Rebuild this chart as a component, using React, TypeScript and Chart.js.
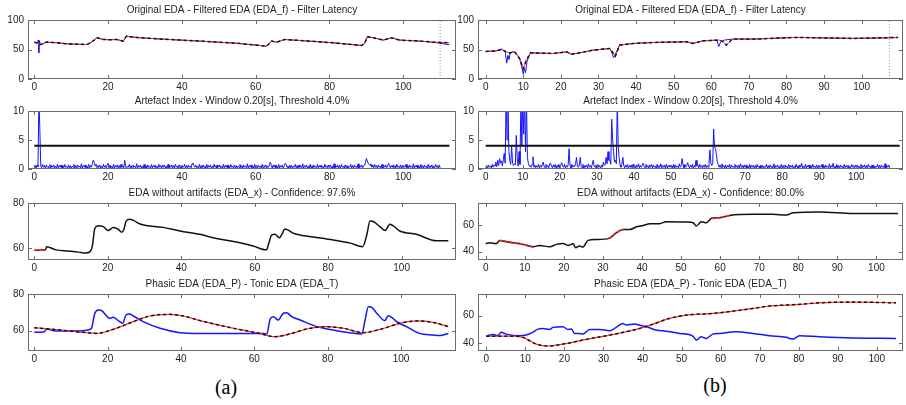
import React, { useEffect, useRef } from 'react';
import { Chart, registerables } from 'chart.js';

Chart.register(...registerables);

// ---------------- axis ticks ----------------
const A_X_TICKS = [0, 20, 40, 60, 80, 100];
const B_X_TICKS = [0, 10, 20, 30, 40, 50, 60, 70, 80, 90, 100];
const EDA_Y_TICKS = [0, 50, 100];
const AI_Y_TICKS = [0, 5, 10];
const A_EDAX_Y_TICKS = [60, 80];
const A_COMP_Y_TICKS = [60, 80];
const B_EDAX_Y_TICKS = [40, 60];
const B_COMP_Y_TICKS = [40, 60];

const THRESHOLD = 4;
const AI_DT = 0.25;
const LATENCY_A = 110;
const LATENCY_B = 107.4;
const CONF_A = '97.6%';
const CONF_B = '80.0%';

// ---------------- recording (a) ----------------
// original / filtered EDA
const T_EDA_A = [0, 0.8, 1.1, 1.2, 1.4, 1.6, 2, 3.3, 6, 8.8, 12, 14.2, 15.3, 16.2, 16.9, 18.7, 20.5, 22.3, 24.1, 25, 26, 28.6, 35, 45, 55, 63, 64.3, 65.7, 67.9, 70, 72, 81, 88.7, 89.5, 90.3, 91.9, 94.6, 96.8, 99, 104, 108, 112.5];
const EDA_RAW_A = [62.5, 61, 66, 44, 65, 58.5, 59, 62.5, 61.5, 59.7, 58.8, 58.5, 61.4, 66, 69.9, 67, 66.5, 67, 64.2, 72.7, 71.5, 69.9, 67.5, 64.2, 60.5, 55.7, 64.2, 62.5, 67, 66, 65.3, 61.4, 56.8, 60, 71.6, 69.9, 65.9, 69.9, 65.9, 64.5, 62.5, 58];
const EDA_F_A = [62.5, 61, 60, 59, 58.5, 58.5, 59, 62.5, 61.5, 59.7, 58.8, 58.5, 61.4, 66, 69.9, 67, 66.5, 67, 64.2, 72.7, 71.5, 69.9, 67.5, 64.2, 60.5, 55.7, 64.2, 62.5, 67, 66, 65.3, 61.4, 56.8, 60, 71.6, 69.9, 65.9, 69.9, 65.9, 64.5, 62.5, 61.4];

// artefact index, one value every AI_DT seconds (20 values = 5 s per row)
const AI_A = [
  .2, .6, .1, .7, .4, 12, 7, .5, .2, .8, .3, .6, .1, .7, .3, .5, .1, .8, .2, .6,
  .3, .7, .2, .5, .1, .8, .2, .6, .3, .7, .1, .6, .2, .8, .3, .5, .1, .7, .2, .6,
  .1, .5, .3, .8, .2, .6, .1, .7, .3, .5, .2, .9, .1, .6, .3, .7, .2, .5, .1, .8,
  .2, .6, .3, 1.0, 1.5, 1.1, .5, .8, .2, .6, .3, .7, .1, .5, .2, .8, .3, .6, .1, .7,
  1.0, .3, .7, .2, .5, .1, .8, .2, .6, .3, .7, .1, .6, .2, .8, .3, .5, .1, 1.5, .4,
  .1, .5, .3, .8, .2, .6, .1, .7, .3, .5, .2, .9, .1, .6, .3, .7, .2, .5, .1, .8,
  .2, .6, .1, .7, .3, .5, .1, .8, .2, .6, .3, .7, .1, .5, .2, .8, .3, .6, .1, .7,
  .3, .7, .2, .5, .1, .8, .2, .6, .3, .7, .1, .6, .2, .8, .3, .5, .1, .7, .2, .6,
  .1, .5, .3, .8, .2, .6, .1, .7, .3, .5, .2, .9, 1.0, .6, .3, .7, .2, .5, .1, .8,
  .2, .6, .1, .7, .3, .5, .1, .8, .2, .6, .3, .7, .1, .5, .2, .8, .3, .6, .1, .7,
  .3, .7, .2, .5, .1, .8, .2, .6, .3, .7, .1, .6, .2, .8, .3, .5, .1, .7, .2, .6,
  .1, .5, .3, .8, .2, .6, .1, .7, .3, .5, .2, .9, .1, .6, .3, .7, .2, .5, .1, .8,
  .2, .6, .1, .7, .3, .5, .1, .8, .2, .6, .3, .7, .1, .5, .3, .9, 1.2, .6, .1, .7,
  .3, .7, .2, .5, .1, .8, .2, .6, .3, .7, .1, .6, 1.0, .8, .3, .5, .1, .7, .2, .6,
  .1, .5, .3, .8, .2, .6, .1, .7, .3, .5, .2, .9, .1, .6, .3, .7, .2, .5, .1, .8,
  .2, .6, .1, .7, .3, .5, .1, .8, .2, .6, .3, .7, .1, .5, .2, .8, .3, .6, .1, .7,
  .3, .7, .2, .5, .1, .9, .2, .6, .3, .7, .1, .6, .2, .8, .3, .5, .1, .7, .2, .6,
  .1, .5, .3, .8, .2, .6, .1, .7, .3, .5, .2, .9, .1, .6, .3, .7, .2, .5, .6, 1.1,
  1.8, 1.4, 1.0, .8, .6, .9, .3, .7, .2, .8, .3, .6, .1, .7, .3, .5, .1, .8, .2, .6,
  .3, .7, .2, .5, 1.0, .6, .2, .6, .3, .7, .1, .6, .2, .8, .3, .5, .1, .7, .2, .6,
  .1, .5, .3, .8, .2, .6, .1, .7, .3, .5, .2, .9, .1, .6, .3, .7, .2, .5, .1, .8,
  .2, .6, .1, .7, .3, .5, .1, .8, .2, .6, .3, .7, .1, .5, .2, .8, .3, .6, .1, .7,
  .2,
];
const AI_END_A = 112.5;

// EDA without artifacts
const T_EDAX_A = [0, 1, 2, 3, 3.4, 4, 6, 9, 12, 14, 15.2, 15.8, 16.5, 17.4, 18.8, 20.1, 21.5, 22.9, 23.8, 24.4, 25, 26, 27, 28.8, 35, 39.7, 45, 49.6, 55, 59.6, 63.2, 63.8, 64.6, 65.5, 66.7, 67.5, 68.2, 69.1, 70.5, 72.3, 77, 81.4, 86, 89.4, 90.5, 91.4, 92.3, 94.1, 95.5, 96.8, 97.7, 99.5, 104, 109.5, 112.7];
const EDAX_A = [59.3, 59.1, 59.3, 59.2, 60.7, 60.5, 59.3, 58.8, 58.3, 57.9, 58.5, 61, 68.9, 70, 69.6, 67.9, 69.2, 68.4, 67.1, 68.5, 72.1, 72.9, 72.4, 70.8, 69.3, 67.7, 66.2, 64.4, 62.8, 61, 59.3, 62, 65.9, 66.2, 64.7, 66.5, 68.6, 68.1, 66.7, 65.9, 64.8, 63.7, 62.3, 60.7, 65.9, 72.1, 71.9, 69.6, 67.9, 70.7, 70, 67.7, 66.2, 63.3, 63.3];
const ART_RANGES_A = [[0, 3]];

// phasic / tonic
const T_PHASIC_A = [0, 2.5, 3.4, 5.2, 8, 12, 14.7, 15.6, 16.5, 17.5, 18.4, 19.7, 20.6, 21.5, 22.9, 24.1, 25, 25.9, 27, 29.7, 34.3, 39.7, 45, 55, 62.5, 63.4, 64.3, 65.2, 66.5, 67.9, 68.8, 70.2, 72.5, 77, 81.5, 86, 89.3, 90.2, 91.1, 92, 93.4, 95.6, 96.5, 97.5, 98.8, 101.5, 105, 108.8, 110.6, 112.9];
const PHASIC_A = [59.1, 59.2, 60.9, 60, 59.8, 59.8, 60.4, 61.3, 69.5, 71.3, 70.9, 68, 66.7, 67.3, 65.5, 64, 68.5, 69.1, 68, 64.9, 61.3, 58.9, 58.5, 58.5, 58.4, 58.2, 66.2, 67.6, 65.8, 69.5, 69.8, 67.6, 65.8, 62.2, 60.4, 58.9, 58.2, 65.8, 73.1, 72.7, 69.5, 65.5, 68.2, 67.3, 64.9, 62.2, 58.5, 57.6, 57.3, 58.5];
const T_TONIC_A = [0, 4.3, 8.8, 14.3, 17, 21.5, 27, 31.5, 37, 40.6, 45.2, 54.3, 60.6, 65.6, 69.7, 74.3, 79.7, 84.3, 89.7, 94.3, 99.7, 104.3, 108.8, 112.9];
const TONIC_A = [61.6, 60.9, 60, 58.9, 58.5, 60.7, 64.9, 68, 68.9, 68, 65.5, 61.3, 58.9, 56.7, 58.2, 60.9, 62.2, 61.3, 58.9, 60.7, 64, 65.3, 64.5, 62.2];

// ---------------- recording (b) ----------------
const T_EDA_RAW_B = [0, 2.8, 4.2, 5.2, 5.6, 5.9, 6.2, 6.5, 7, 7.7, 9, 9.6, 10, 10.3, 10.6, 11, 11.9, 17.9, 21.5, 22.8, 25, 28.5, 33, 33.6, 34, 34.5, 35.6, 39.2, 44.5, 53.4, 55.1, 57.8, 61.5, 62, 62.5, 63.5, 65.6, 71.1, 82.6, 97.7, 106, 109];
const EDA_RAW_B = [46.6, 47.7, 51, 46, 27, 40, 33, 44, 46, 46, 36, 20, 8, 18, 11, 30, 44.3, 43.2, 46, 42, 44.3, 48.9, 51.7, 44, 36, 42, 57.4, 60.2, 61.9, 63.1, 60.2, 64.8, 65.9, 55, 63, 66, 67.6, 67.6, 70.5, 68.8, 69.5, 70];
const T_EDA_F_B = [0, 2.8, 4.2, 5.5, 6.4, 7.7, 9, 10, 10.8, 11.9, 17.9, 21.5, 22.8, 25, 28.5, 33, 33.8, 34.5, 35.6, 39.2, 44.5, 53.4, 55.1, 57.8, 62.2, 63.2, 64, 65.6, 71.1, 82.6, 97.7, 109.7];
const EDA_F_B = [46.6, 47.7, 50, 46, 44.3, 46, 34.7, 17.6, 31.8, 44.3, 43.2, 46, 42, 44.3, 48.9, 51.7, 45, 38.6, 57.4, 60.2, 61.9, 63.1, 60.2, 64.8, 65.9, 63, 57.4, 67.6, 67.6, 70.5, 68.8, 70.5];

const AI_B = [
  .2, .6, .1, .7, .3, .5, .2, .8, .3, .7, .5, 1.2, .4, 1.5, .6, 1.8, 1.0, 1.4, .5, 1.6,
  2.7, 1.0, 12, 5, 12, 3, 1.5, .8, 4, 1, .6, .9, .7, 5.8, 2, .5, 3, .8, 12, 4,
  12, 6, 12, 3, 12, 2, 1, .5, .6, .3, .8, 2.1, .3, .7, .2, .6, .3, .8, .1, .7,
  .3, .7, 1.2, .5, .2, .8, .3, .6, .2, .9, 1.0, .5, .2, .7, .3, .8, .1, .6, .3, .8,
  .2, .7, 1.1, .5, .3, .8, .2, .6, .3, .7, 3.5, .6, .2, .8, .3, .6, .4, .9, 2.0, .5,
  .3, .7, 2.0, .5, .2, .8, .1, .6, .3, .7, .2, .9, .3, .6, .2, .8, 1.5, .6, .3, .7,
  .2, .8, .3, .6, .1, .7, .3, 1.2, .6, .8, 2, .9, 3, 1.5, 1.5, .8, 8.6, 5, 3, 1.2,
  1.5, .9, 12, 4, 2, .7, .3, .8, 2, .6, .2, .7, .3, .8, .1, .6, .3, .7, .2, .8,
  .3, .6, .1, .7, .3, .9, .2, .6, .3, .7, 1.0, .5, .2, .8, .3, .6, .1, .7, .3, .8,
  .2, .7, .3, .5, .1, .8, .2, .6, .3, .9, .2, .6, .3, .7, .1, .8, .2, .6, .3, .7,
  .3, .6, .2, .8, .1, .7, .3, .5, .2, .9, .3, .6, 1.8, .7, .2, .8, .3, .6, 1.1, .5,
  .2, .7, .3, .8, .1, .6, .3, 1.5, .5, .7, .2, .8, .3, .6, .1, .7, .3, .8, .2, .6,
  .3, .8, 3.3, 1.0, .6, .9, 6.9, 3.8, 3.5, 2.5, 1.2, .8, .3, .7, .2, .9, .3, .6, .1, .7,
  .2, .6, .3, .8, .1, .7, .3, .5, .2, .8, .3, .6, .1, .7, .2, .9, .3, .6, .1, .7,
  .3, .7, .2, .5, .1, .8, .2, .6, .3, .7, .1, .6, .2, .8, .3, .5, .1, .7, .2, .6,
  .1, .5, .3, .8, .2, .6, .1, .7, .3, .5, .2, .9, .1, .6, .3, .7, .2, .5, .1, .8,
  .2, .6, .1, .7, .3, .5, .1, .8, .2, .6, .3, .7, .1, .5, .2, .8, .3, .6, .1, .7,
  .3, 1.0, .2, .5, .1, .8, .2, .6, .3, .7, .1, .6, .2, .8, .3, .5, .1, .7, .2, .6,
  .1, .5, .3, .8, .2, .6, .1, .7, .3, .5, .2, .9, .1, .6, .3, 1.0, .2, .5, .1, .8,
  .2, .6, .1, .7, .3, .5, .1, .8, .2, .6, .3, .7, .1, .5, .2, .8, .3, .6, .1, .7,
  .3, .7, .2, .5, .1, .8, .2, .6, .3, .7, .1, .6, .2, .8, .3, .5, .1, .7, .2, .6,
  .1, .5, .3, .8, .2, .6, .1, .7, .3, .5, .2, .9, .1, .6, .3, .7, .2,
];
const AI_END_B = 111.7;

const T_EDAX_B = [0, 1, 2.7, 3.6, 4.4, 7, 9.6, 12.1, 13.8, 16.4, 18.1, 19.8, 21, 22.4, 23, 24, 24.9, 26.2, 28.3, 31.6, 33.4, 35.2, 36.9, 38.6, 40.3, 42, 44.5, 46.2, 51.4, 53.1, 53.9, 55.2, 56.5, 57.8, 59.9, 62.5, 68.4, 73.5, 77, 78.7, 85.5, 94, 105.5];
const EDAX_B = [46, 46.7, 46, 48.5, 48, 46.7, 45.5, 43.7, 44.7, 43.7, 45.5, 46.2, 44.7, 46, 43, 44.2, 43.5, 48.5, 49.2, 50, 54.2, 56.7, 56.7, 58.7, 59.7, 61, 61, 62.5, 62.2, 61.7, 59.2, 62.5, 61.7, 65, 65.5, 67.2, 68, 68, 67.5, 69.2, 69.7, 68.7, 68.7];
const ART_RANGES_B = [[3.6, 12.1], [31.6, 35.2], [57.8, 62.5]];

const T_PHASIC_B = [0, 1.7, 3, 3.8, 5.1, 8.5, 10.2, 11.9, 13.2, 14.5, 16.2, 17.1, 19.6, 20.9, 21.8, 22.6, 23.9, 24.7, 26.5, 29, 31.6, 34.1, 35, 35.8, 38, 39.2, 41, 43.5, 46.1, 49.5, 52.9, 53.8, 55, 56.3, 58, 59.7, 64, 68.3, 72.5, 76.8, 78.5, 80.2, 85.3, 93.9, 104.9];
const PHASIC_B = [44.9, 46.2, 45.4, 47.7, 46.4, 45.2, 45.7, 47.7, 50.1, 50.6, 49.9, 51.4, 51.9, 49.9, 50.1, 46.9, 46.9, 46.4, 49.9, 49.9, 48.9, 53.1, 54.3, 53.1, 53.8, 53.1, 51.9, 49.4, 48.6, 46.9, 44.9, 42, 44.4, 43.2, 46.4, 46.9, 48.1, 46.9, 45.2, 44, 42.7, 45.2, 44.4, 43.5, 43.2];
const T_TONIC_B = [0, 6.8, 9.4, 12.8, 15.8, 19.6, 25.6, 31.6, 38.4, 42.7, 46.9, 51.2, 58, 64, 68.3, 72.5, 76.8, 81.1, 85.3, 93.9, 104.9];
const TONIC_B = [44.9, 44.9, 44, 39, 37.6, 39, 42.5, 45.7, 49.9, 53.8, 58, 60.5, 61.7, 63.7, 65.4, 67.2, 67.9, 68.6, 69.6, 70.1, 69.6];

// ---------------- styling ----------------
const FONT = "'Liberation Sans', Arial, Helvetica, sans-serif";
const TEXT = '#1e1e1e';
const AXIS = '#6a6a6a';
const BLUE = '#1414ff';
const RED = '#ff2a2a';
const BLACK = '#111111';
const GRAY = '#9a9a9a';
const TITLE_H = 20;
const XLABEL_H = 18;
const TICK_LEN = 4;

const COLS = [
  { left: 0, width: 460, plotLeft: 28, plotRight: 456 },
  { left: 456, width: 450, plotLeft: 478, plotRight: 903 },
];

type Pt = { x: number; y: number | null };
const pts = (xs: number[], ys: number[]): Pt[] => xs.map((x, i) => ({ x, y: ys[i] }));
const sampled = (ys: number[], dt: number): Pt[] => ys.map((y, i) => ({ x: i * dt, y }));
const hline = (y: number, x0: number, x1: number): Pt[] => [{ x: x0, y }, { x: x1, y }];
const vline = (x: number, y0: number, y1: number): Pt[] => [{ x, y: y0 }, { x, y: y1 }];
const within = (data: Pt[], ranges: number[][]): Pt[] =>
  data.map((p) => (ranges.some(([a, b]) => p.x >= a && p.x <= b) ? p : { x: p.x, y: null }));

function line(data: Pt[], color: string, width: number, dash: number[] = [], smooth = false) {
  return {
    data,
    borderColor: color,
    backgroundColor: color,
    borderWidth: width,
    borderDash: dash,
    pointRadius: 0,
    fill: false,
    spanGaps: false,
    cubicInterpolationMode: smooth ? 'monotone' : 'default',
    tension: 0,
  };
}

type Spec = {
  col: number;
  plotTop: number;
  plotBottom: number;
  title: string;
  xMin: number;
  xMax: number;
  xTicks: number[];
  yMin: number;
  yMax: number;
  yTicks: number[];
  datasets: () => any[];
};

// axes box with inward tick marks on all four sides
const framePlugin = {
  id: 'frame',
  afterDatasetsDraw(chart: any) {
    const { ctx, chartArea: a, scales } = chart;
    const x = scales.x;
    const y = scales.y;
    ctx.save();
    ctx.strokeStyle = AXIS;
    ctx.lineWidth = 1;
    ctx.strokeRect(a.left + 0.5, a.top + 0.5, a.right - a.left - 1, a.bottom - a.top - 1);
    ctx.beginPath();
    for (const t of x.ticks) {
      const px = Math.round(x.getPixelForValue(t.value)) + 0.5;
      ctx.moveTo(px, a.bottom);
      ctx.lineTo(px, a.bottom - TICK_LEN);
      ctx.moveTo(px, a.top);
      ctx.lineTo(px, a.top + TICK_LEN);
    }
    for (const t of y.ticks) {
      const py = Math.round(y.getPixelForValue(t.value)) + 0.5;
      ctx.moveTo(a.left, py);
      ctx.lineTo(a.left + TICK_LEN, py);
      ctx.moveTo(a.right, py);
      ctx.lineTo(a.right - TICK_LEN, py);
    }
    ctx.stroke();
    ctx.restore();
  },
};

function Panel({ spec }: { spec: Spec }) {
  const ref = useRef<HTMLCanvasElement>(null);
  const col = COLS[spec.col];
  const top = spec.plotTop - TITLE_H;
  const height = spec.plotBottom - top + XLABEL_H;

  useEffect(() => {
    const tickFont = { family: FONT, size: 10, lineHeight: 1.2 };
    const chart = new Chart(ref.current as HTMLCanvasElement, {
      type: 'line',
      data: { datasets: spec.datasets() },
      options: {
        animation: false,
        responsive: false,
        maintainAspectRatio: false,
        devicePixelRatio: 1,
        events: [],
        layout: { padding: { top: 0, bottom: 0, left: 0, right: col.width - (col.plotRight - col.left) } },
        plugins: {
          legend: { display: false },
          tooltip: { enabled: false },
          title: {
            display: true,
            text: spec.title,
            color: TEXT,
            fullSize: false,
            font: { family: FONT, size: 10, weight: 'normal', lineHeight: 1.2 },
            padding: { top: 4, bottom: 4 },
          },
        },
        scales: {
          x: {
            type: 'linear',
            min: spec.xMin,
            max: spec.xMax,
            grid: { display: false, drawTicks: false },
            border: { display: false },
            ticks: { color: TEXT, font: tickFont, padding: 2, maxRotation: 0, autoSkip: false },
            afterBuildTicks: (s: any) => {
              s.ticks = spec.xTicks.map((v) => ({ value: v }));
            },
            afterFit: (s: any) => {
              s.height = XLABEL_H;
            },
          },
          y: {
            type: 'linear',
            min: spec.yMin,
            max: spec.yMax,
            grid: { display: false, drawTicks: false },
            border: { display: false },
            ticks: { color: TEXT, font: tickFont, padding: 4, autoSkip: false },
            afterBuildTicks: (s: any) => {
              s.ticks = spec.yTicks.map((v) => ({ value: v }));
            },
            afterFit: (s: any) => {
              s.width = col.plotLeft - col.left;
            },
          },
        },
      } as any,
      plugins: [framePlugin],
    });
    return () => chart.destroy();
  }, [spec]);

  return (
    <canvas
      ref={ref}
      width={col.width}
      height={height}
      style={{ position: 'absolute', left: col.left, top, width: col.width, height }}
    />
  );
}

const SPECS: Spec[] = [
  // (a)
  {
    col: 0, plotTop: 20, plotBottom: 79,
    title: 'Original EDA - Filtered EDA (EDA_f) - Filter Latency',
    xMin: -1.71, xMax: 114.3, xTicks: A_X_TICKS, yMin: 0, yMax: 100, yTicks: EDA_Y_TICKS,
    datasets: () => [
      line(pts(T_EDA_A, EDA_F_A), BLACK, 1.5, [3, 3]),
      line(pts(T_EDA_A, EDA_F_A), RED, 1),
      line(pts(T_EDA_A, EDA_RAW_A), BLUE, 1),
      line(vline(LATENCY_A, 0, 100), GRAY, 1, [1, 2]),
    ],
  },
  {
    col: 0, plotTop: 111, plotBottom: 169,
    title: 'Artefact Index - Window 0.20[s], Threshold 4.0%',
    xMin: -1.71, xMax: 114.3, xTicks: A_X_TICKS, yMin: 0, yMax: 10, yTicks: AI_Y_TICKS,
    datasets: () => [
      line(hline(THRESHOLD, 0, AI_END_A), BLACK, 2),
      line(sampled(AI_A, AI_DT), BLUE, 1),
    ],
  },
  {
    col: 0, plotTop: 203, plotBottom: 260,
    title: `EDA without artifacts (EDA_x) - Confidence: ${CONF_A}`,
    xMin: -1.71, xMax: 114.8, xTicks: A_X_TICKS, yMin: 54.8, yMax: 80.13, yTicks: A_EDAX_Y_TICKS,
    datasets: () => [
      line(within(pts(T_EDAX_A, EDAX_A), ART_RANGES_A), RED, 2, [3, 2], true),
      line(pts(T_EDAX_A, EDAX_A), BLACK, 1.5, [], true),
    ],
  },
  {
    col: 0, plotTop: 294, plotBottom: 351,
    title: 'Phasic EDA (EDA_P) - Tonic EDA (EDA_T)',
    xMin: -1.72, xMax: 115, xTicks: A_X_TICKS, yMin: 48.9, yMax: 80, yTicks: A_COMP_Y_TICKS,
    datasets: () => [
      line(pts(T_TONIC_A, TONIC_A), BLACK, 1.5, [3, 3], true),
      line(pts(T_TONIC_A, TONIC_A), RED, 1.2, [], true),
      line(pts(T_PHASIC_A, PHASIC_A), BLUE, 1.5, [], true),
    ],
  },
  // (b)
  {
    col: 1, plotTop: 20, plotBottom: 79,
    title: 'Original EDA - Filtered EDA (EDA_f) - Filter Latency',
    xMin: -2.05, xMax: 111, xTicks: B_X_TICKS, yMin: 0, yMax: 100, yTicks: EDA_Y_TICKS,
    datasets: () => [
      line(pts(T_EDA_F_B, EDA_F_B), BLACK, 1.5, [3, 3]),
      line(pts(T_EDA_F_B, EDA_F_B), RED, 1),
      line(pts(T_EDA_RAW_B, EDA_RAW_B), BLUE, 1),
      line(vline(LATENCY_B, 0, 100), GRAY, 1, [1, 2]),
    ],
  },
  {
    col: 1, plotTop: 111, plotBottom: 169,
    title: 'Artefact Index - Window 0.20[s], Threshold 4.0%',
    xMin: -2.08, xMax: 112.6, xTicks: B_X_TICKS, yMin: 0, yMax: 10, yTicks: AI_Y_TICKS,
    datasets: () => [
      line(hline(THRESHOLD, 0, AI_END_B), BLACK, 2),
      line(sampled(AI_B, AI_DT), BLUE, 1),
    ],
  },
  {
    col: 1, plotTop: 203, plotBottom: 260,
    title: `EDA without artifacts (EDA_x) - Confidence: ${CONF_B}`,
    xMin: -1.97, xMax: 106.8, xTicks: B_X_TICKS, yMin: 33.8, yMax: 76.5, yTicks: B_EDAX_Y_TICKS,
    datasets: () => [
      line(within(pts(T_EDAX_B, EDAX_B), ART_RANGES_B), RED, 2, [3, 2], true),
      line(pts(T_EDAX_B, EDAX_B), BLACK, 1.5, [], true),
    ],
  },
  {
    col: 1, plotTop: 294, plotBottom: 351,
    title: 'Phasic EDA (EDA_P) - Tonic EDA (EDA_T)',
    xMin: -2.12, xMax: 106.7, xTicks: B_X_TICKS, yMin: 33.9, yMax: 76.1, yTicks: B_COMP_Y_TICKS,
    datasets: () => [
      line(pts(T_TONIC_B, TONIC_B), BLACK, 1.5, [3, 3], true),
      line(pts(T_TONIC_B, TONIC_B), RED, 1.2, [], true),
      line(pts(T_PHASIC_B, PHASIC_B), BLUE, 1.5, [], true),
    ],
  },
];

const captionStyle: React.CSSProperties = {
  position: 'absolute',
  width: 60,
  textAlign: 'center',
  fontFamily: "'Liberation Serif', 'Times New Roman', serif",
  fontSize: 20,
  lineHeight: '20px',
  color: '#000',
};

export default function App() {
  return (
    <div
      style={{
        position: 'fixed',
        left: 0,
        top: 0,
        width: 906,
        height: 405,
        background: '#ffffff',
        overflow: 'hidden',
      }}
    >
      {SPECS.map((s, i) => (
        <Panel key={i} spec={s} />
      ))}
      <div style={{ ...captionStyle, left: 196, top: 377 }}>(a)</div>
      <div style={{ ...captionStyle, left: 685, top: 375 }}>(b)</div>
    </div>
  );
}
